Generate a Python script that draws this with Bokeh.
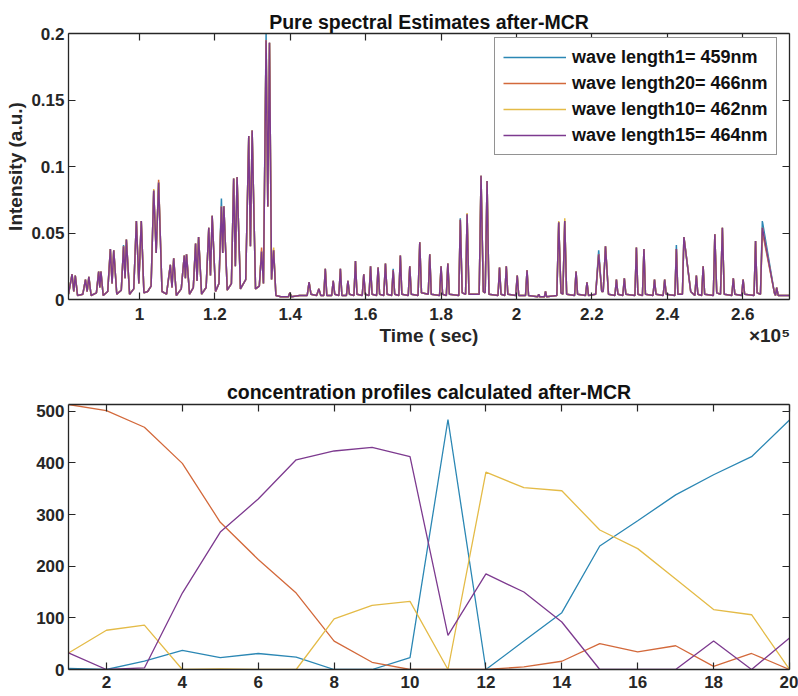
import numpy as np
from bokeh.plotting import figure
from bokeh.models import (Range1d, FixedTicker, LinearAxis,
                          CustomJSTickFormatter)
from bokeh.layouts import column
from bokeh.embed import file_html
from bokeh.resources import INLINE

FONT = "Liberation Sans"
INK = "#262626"

legend_labels = ["wave length1= 459nm", "wave length20= 466nm",
                 "wave length10= 462nm", "wave length15= 464nm"]
line_colors = ["#2b87b4", "#d3693b", "#e4bb47", "#7d3a8f"]
x_title = "Time ( sec)"
x_exponent = "×10⁵"

# ---------------- top panel: pure spectral estimates (time in units of 1e5 s)
peak_t = [0.8215, 0.830, 0.857, 0.866, 0.892, 0.898, 0.923, 0.932, 0.958, 0.9655,
          0.992, 1.005, 1.038, 1.051, 1.082, 1.091, 1.119, 1.125, 1.149, 1.157,
          1.184, 1.193, 1.2175, 1.224, 1.250, 1.259, 1.290, 1.299, 1.324, 1.336,
          1.345, 1.356, 1.399, 1.450, 1.476, 1.493, 1.514, 1.533, 1.553, 1.573,
          1.595, 1.613, 1.633, 1.6525, 1.673, 1.692, 1.717, 1.7435, 1.770, 1.800,
          1.818, 1.851, 1.869, 1.906, 1.922, 1.955, 1.973, 2.002, 2.028, 2.059,
          2.077, 2.112, 2.128, 2.158, 2.187, 2.218, 2.236, 2.265, 2.286, 2.318,
          2.338, 2.366, 2.393, 2.424, 2.444, 2.477, 2.495, 2.526, 2.546, 2.575,
          2.601, 2.634, 2.652, 2.690]
peak_purple = [0.019, 0.018, 0.015, 0.017, 0.021, 0.021, 0.038, 0.037, 0.040, 0.045,
               0.059, 0.059, 0.082, 0.088, 0.026, 0.031, 0.033, 0.034, 0.042, 0.047,
               0.054, 0.063, 0.070, 0.070, 0.091, 0.092, 0.123, 0.127, 0.036, 0.195,
               0.193, 0.037, 0.005, 0.013, 0.008, 0.023, 0.014, 0.023, 0.014, 0.029,
               0.019, 0.025, 0.024, 0.027, 0.022, 0.033, 0.025, 0.043, 0.034, 0.025,
               0.027, 0.060, 0.064, 0.093, 0.089, 0.024, 0.025, 0.018, 0.022, 0.004,
               0.006, 0.058, 0.059, 0.021, 0.013, 0.034, 0.040, 0.015, 0.016, 0.039,
               0.038, 0.015, 0.015, 0.038, 0.047, 0.018, 0.025, 0.049, 0.054, 0.016,
               0.015, 0.044, 0.054, 0.009]
# peak tips where the other wavelengths stick out above the purple trace
tip_blue = {8: 0.041, 22: 0.076, 29: 0.200, 44: 0.023, 51: 0.061,
            65: 0.037, 73: 0.041, 82: 0.059}
tip_orange = {13: 0.090, 28: 0.039, 82: 0.051}
tip_yellow = {12: 0.083, 31: 0.039, 52: 0.065, 61: 0.059, 62: 0.061}

valley_t = [0.812, 0.826, 0.836, 0.850, 0.8615, 0.872, 0.886, 0.895, 0.904, 0.916,
            0.9275, 0.940, 0.952, 0.962, 0.974, 0.985, 0.9985, 1.012, 1.022, 1.031,
            1.0445, 1.060, 1.072, 1.0865, 1.098, 1.111, 1.122, 1.133, 1.143, 1.153,
            1.165, 1.177, 1.1885, 1.202, 1.211, 1.221, 1.233, 1.244, 1.2545, 1.268,
            1.282, 1.2945, 1.308, 1.318, 1.329, 1.3405, 1.3505, 1.362, 1.375, 1.395,
            1.403, 1.425, 1.445, 1.455, 1.470, 1.481, 1.489, 1.497, 1.510, 1.518,
            1.529, 1.537, 1.549, 1.557, 1.569, 1.577, 1.591, 1.599, 1.609, 1.617,
            1.629, 1.637, 1.648, 1.657, 1.669, 1.677, 1.688, 1.696, 1.713, 1.721,
            1.739, 1.748, 1.766, 1.774, 1.796, 1.804, 1.814, 1.822, 1.847, 1.856,
            1.865, 1.874, 1.901, 1.912, 1.917, 1.927, 1.951, 1.959, 1.969, 1.977,
            1.998, 2.006, 2.024, 2.032, 2.056, 2.062, 2.074, 2.080, 2.107, 2.118,
            2.123, 2.133, 2.154, 2.162, 2.183, 2.191, 2.210, 2.226, 2.230, 2.244,
            2.261, 2.269, 2.282, 2.290, 2.314, 2.322, 2.334, 2.342, 2.362, 2.370,
            2.389, 2.397, 2.420, 2.428, 2.440, 2.462, 2.473, 2.481, 2.491, 2.499,
            2.522, 2.531, 2.541, 2.551, 2.571, 2.579, 2.597, 2.605, 2.630, 2.638,
            2.647, 2.684, 2.687, 2.694, 2.724]
valley_v = [0.004, 0.006, 0.003, 0.004, 0.006, 0.003, 0.005, 0.009, 0.003, 0.006,
            0.012, 0.004, 0.007, 0.016, 0.004, 0.008, 0.012, 0.005, 0.006, 0.010,
            0.035, 0.006, 0.004, 0.009, 0.003, 0.008, 0.016, 0.004, 0.009, 0.014,
            0.004, 0.009, 0.018, 0.006, 0.012, 0.035, 0.007, 0.012, 0.025, 0.008,
            0.015, 0.040, 0.008, 0.010, 0.012, 0.070, 0.015, 0.003, 0.002, 0.002,
            0.002, 0.003, 0.003, 0.004, 0.003, 0.003, 0.003, 0.003, 0.003, 0.004,
            0.003, 0.003, 0.003, 0.004, 0.003, 0.004, 0.003, 0.004, 0.003, 0.004,
            0.003, 0.004, 0.003, 0.004, 0.003, 0.004, 0.003, 0.004, 0.003, 0.004,
            0.003, 0.005, 0.004, 0.004, 0.003, 0.004, 0.003, 0.004, 0.003, 0.005,
            0.004, 0.004, 0.004, 0.006, 0.005, 0.004, 0.003, 0.004, 0.003, 0.004,
            0.003, 0.003, 0.003, 0.003, 0.002, 0.002, 0.002, 0.002, 0.003, 0.005,
            0.004, 0.004, 0.003, 0.004, 0.003, 0.003, 0.004, 0.006, 0.006, 0.004,
            0.003, 0.004, 0.003, 0.004, 0.003, 0.004, 0.003, 0.004, 0.003, 0.004,
            0.003, 0.004, 0.003, 0.004, 0.004, 0.006, 0.003, 0.004, 0.003, 0.004,
            0.003, 0.005, 0.004, 0.004, 0.003, 0.004, 0.003, 0.004, 0.003, 0.005,
            0.004, 0.005, 0.003, 0.003, 0.003]

top_xrange = (0.812, 2.724)
top_xticks = [1.0, 1.2, 1.4, 1.6, 1.8, 2.0, 2.2, 2.4, 2.6]
top_yticks = [0, 0.05, 0.1, 0.15, 0.2]

# ---------------- bottom panel: concentration profiles
comp_x = list(range(1, 21))
conc_wl1 = [2, 0, 16, 37, 23, 31, 24, 0, 0, 23, 484, 0, 55, 110, 239, 288, 338, 377, 412, 483]
conc_wl20 = [513, 501, 469, 399, 285, 213, 148, 55, 14, 0, 0, 0, 5, 16, 50, 34, 46, 6, 31, 0]
conc_wl10 = [32, 76, 86, 0, 1, 0, 0, 98, 124, 132, 0, 382, 352, 346, 270, 234, 175, 116, 106, 0]
conc_wl15 = [32, 0, 3, 148, 266, 330, 406, 423, 430, 412, 66, 185, 150, 92, 0, 0, 0, 55, 0, 61]

bot_xticks = [2, 4, 6, 8, 10, 12, 14, 16, 18, 20]
bot_yticks = [0, 100, 200, 300, 400, 500]


def build_trace(tips):
    h = [tips.get(i, v) for i, v in enumerate(peak_purple)]
    t = np.array(valley_t + peak_t)
    v = np.array(valley_v + h)
    order = np.argsort(t, kind="stable")
    return t[order], v[order]


def style(p, xt, yt):
    fmt = CustomJSTickFormatter(code="return String(tick)")
    blank = CustomJSTickFormatter(code="return ''")
    p.grid.visible = False
    p.outline_line_color = None
    p.xaxis.ticker = FixedTicker(ticks=xt)
    p.yaxis.ticker = FixedTicker(ticks=yt)
    for ax in list(p.xaxis) + list(p.yaxis):
        ax.formatter = fmt
        ax.major_tick_in = 7
        ax.major_tick_out = 0
        ax.minor_tick_in = 0
        ax.minor_tick_out = 0
        ax.axis_line_color = INK
        ax.axis_line_width = 1.3
        ax.major_tick_line_color = INK
        ax.major_tick_line_width = 1.2
        ax.major_label_text_font = FONT
        ax.major_label_text_font_style = "bold"
        ax.major_label_text_font_size = "17px"
        ax.major_label_text_color = INK
        ax.axis_label_text_font = FONT
        ax.axis_label_text_font_style = "bold"
        ax.axis_label_text_font_size = "19px"
        ax.axis_label_text_color = INK
        ax.axis_label_standoff = 2
    p.xaxis.major_label_standoff = 8
    p.yaxis.major_label_standoff = 4
    for loc, tk in (("above", xt), ("right", yt)):
        ax = LinearAxis(ticker=FixedTicker(ticks=tk), formatter=blank,
                        major_label_text_font_size="0px",
                        major_label_standoff=0, major_tick_in=7, major_tick_out=0,
                        minor_tick_in=0, minor_tick_out=0, axis_line_color=INK,
                        axis_line_width=1.3, major_tick_line_color=INK,
                        major_tick_line_width=1.2)
        p.add_layout(ax, loc)
    p.title.text_font = FONT
    p.title.text_font_style = "bold"
    p.title.text_font_size = "19.5px"
    p.title.text_color = "#111111"
    p.title.align = "center"


# ---------------- top figure (canvas 798 x 355, frame x 68..789, y 33..299)
p1 = figure(width=798, height=355, output_backend="svg", toolbar_location=None,
            x_range=Range1d(*top_xrange), y_range=Range1d(0, 0.2),
            min_border_left=68, min_border_right=9, min_border_top=33,
            min_border_bottom=56, title="Pure spectral Estimates after-MCR")
p1.title.standoff = 1
traces = [build_trace(tip_blue), build_trace(tip_orange),
          build_trace(tip_yellow), build_trace({})]
for (tx, ty), col, lab in zip(traces, line_colors, legend_labels):
    p1.line(tx, ty, line_color=col, line_width=1.5, legend_label=lab)
style(p1, top_xticks, top_yticks)
p1.left[0].axis_label = "Intensity (a.u.)"

# second row under the time axis: axis title centred, exponent at right end
title_pos = (top_xrange[0] + top_xrange[1]) / 2
exp_pos = 2.671
label_row = LinearAxis(
    ticker=FixedTicker(ticks=[title_pos, exp_pos]),
    formatter=CustomJSTickFormatter(
        args=dict(t=x_title, e=x_exponent),
        code="return index == 0 ? t : e"),
    axis_line_color=None, major_tick_line_color=None, minor_tick_line_color=None,
    major_tick_in=0, major_tick_out=0, minor_tick_in=0, minor_tick_out=0,
    major_label_standoff=2, major_label_text_font=FONT,
    major_label_text_font_style="bold", major_label_text_font_size="19px",
    major_label_text_color=INK)
p1.add_layout(label_row, "below")

lg = p1.legend[0]
lg.location = (426, 144)
lg.label_text_font = FONT
lg.label_text_font_style = "bold"
lg.label_text_font_size = "18px"
lg.label_text_color = "#111111"
lg.border_line_color = INK
lg.border_line_width = 1.2
lg.background_fill_alpha = 1
lg.padding = 8
lg.spacing = 4
lg.margin = 0
lg.glyph_width = 63
lg.glyph_height = 22
lg.label_height = 22
lg.label_standoff = 6

# ---------------- bottom figure (canvas 798 x 341, frame y 404..669)
p2 = figure(width=798, height=341, output_backend="svg", toolbar_location=None,
            x_range=Range1d(1, 20),
            y_range=Range1d(0, max(conc_wl1 + conc_wl20 + conc_wl10 + conc_wl15)),
            min_border_left=68, min_border_right=9, min_border_top=49,
            min_border_bottom=27, title="concentration profiles calculated after-MCR")
p2.title.standoff = 3
for series, col in zip([conc_wl1, conc_wl20, conc_wl10, conc_wl15], line_colors):
    p2.line(comp_x, series, line_color=col, line_width=1.3)
style(p2, bot_xticks, bot_yticks)
p2.xaxis.major_label_standoff = 6

layout = column(p1, p2, spacing=0)
open("out.html", "w").write(file_html(layout, INLINE))
